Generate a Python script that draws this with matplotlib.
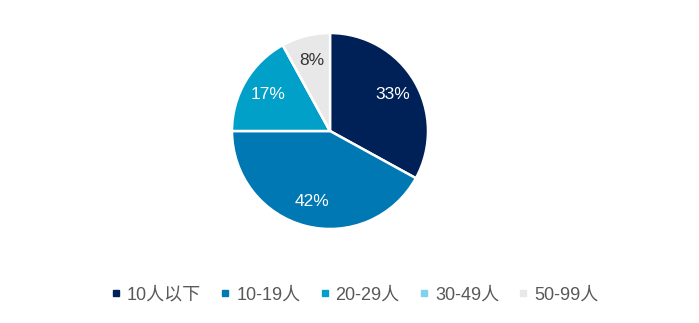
import matplotlib.pyplot as plt
from matplotlib.lines import Line2D

plt.rcParams['font.family'] = ['Liberation Sans', 'Noto Sans CJK SC', 'DejaVu Sans']

categories = ['10人以下', '10-19人', '20-29人', '30-49人', '50-99人']
shares = [33, 42, 17, 0, 8]
colors = ['#002158', '#0078B4', '#00A0C8', '#7FD2EB', '#E8E8E8']
label_colors = ['white', 'white', 'white', '#333333', '#333333']

fig = plt.figure(figsize=(6.99, 3.23), dpi=100)
W, H = 699, 323
cx, cy, r = 330, 131, 98
ax = fig.add_axes([(cx - r) / W, (H - cy - r) / H, 2 * r / W, 2 * r / H])

wedges, texts, autotexts = ax.pie(
    shares, colors=colors, startangle=90, counterclock=False, radius=1,
    autopct=lambda p: '%d%%' % round(p) if p > 0.5 else '', pctdistance=0.74,
    wedgeprops=dict(edgecolor='white', linewidth=1.8),
    textprops=dict(fontsize=12.5))
for t, c in zip(autotexts, label_colors):
    t.set_color(c)
ax.set_xlim(-1, 1)
ax.set_ylim(-1, 1)
ax.set_aspect('equal')

handles = [Line2D([], [], marker='s', linestyle='', color=c, markersize=4.5)
           for c in colors]
fig.legend(handles, categories, loc='center', bbox_to_anchor=(355 / W, 1 - 295 / H),
           ncol=5, frameon=False, fontsize=13, handlelength=0.5, handletextpad=0.35,
           columnspacing=1.1, labelcolor='#595959')

fig.savefig('out.png', dpi=100)
